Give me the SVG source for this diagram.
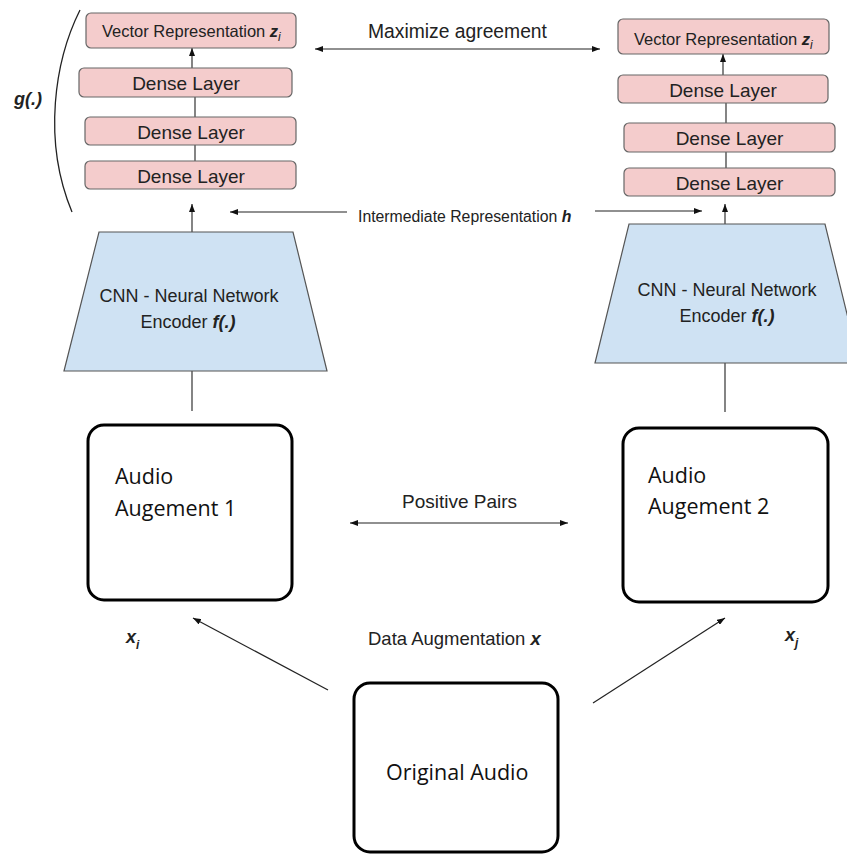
<svg xmlns="http://www.w3.org/2000/svg" width="847" height="855" viewBox="0 0 847 855">
<style>
.pink{fill:#f4cccc;stroke:#666;stroke-width:1.2}
.blue{fill:#cfe2f3;stroke:#555;stroke-width:1.2}
.box{fill:#fff;stroke:#000;stroke-width:3}
.t{font-family:"Liberation Sans",Arial,sans-serif;fill:#222}
.dense{font-size:19px;text-anchor:middle}
.vec{font-size:16.5px}
.cnn{font-size:18px;text-anchor:middle}
.aud{font-family:"Open Sans","Noto Sans",sans-serif;font-size:21.5px;fill:#111}
.bi{font-weight:bold;font-style:italic}
.ln{stroke:#333;stroke-width:1.2;fill:none}
.ar{stroke:#222;stroke-width:1.2;fill:none}
</style>
<defs>
<marker id="ah" markerUnits="userSpaceOnUse" markerWidth="8" markerHeight="6" refX="8" refY="3" orient="auto-start-reverse">
<path d="M0,0 L8,3 L0,6 z" fill="#111"/>
</marker>
</defs>
<rect width="847" height="855" fill="#fff"/>

<g id="connectors">
<line class="ln" x1="192" y1="68" x2="192" y2="48" marker-end="url(#ah)"/>
<line class="ln" x1="195" y1="117" x2="195" y2="97"/>
<line class="ln" x1="195" y1="161" x2="195" y2="145"/>
<line class="ln" x1="192" y1="232" x2="192" y2="204" marker-end="url(#ah)"/>
<line class="ln" x1="192" y1="371" x2="192" y2="411"/>
<line class="ln" x1="723" y1="75" x2="723" y2="54" marker-end="url(#ah)"/>
<line class="ln" x1="726" y1="123" x2="726" y2="103"/>
<line class="ln" x1="726" y1="168" x2="726" y2="152"/>
<line class="ln" x1="725" y1="224" x2="725" y2="204" marker-end="url(#ah)"/>
<line class="ln" x1="725" y1="363" x2="725" y2="412"/>
<line class="ar" x1="315" y1="49" x2="600" y2="49" marker-start="url(#ah)" marker-end="url(#ah)"/>
<line class="ar" x1="347" y1="212" x2="230" y2="212" marker-end="url(#ah)"/>
<line class="ar" x1="595" y1="211" x2="702" y2="211" marker-end="url(#ah)"/>
<line class="ar" x1="350" y1="523" x2="568" y2="523" marker-start="url(#ah)" marker-end="url(#ah)"/>
<line class="ar" x1="328" y1="690" x2="193" y2="618" marker-end="url(#ah)"/>
<line class="ar" x1="593" y1="703" x2="725" y2="618" marker-end="url(#ah)"/>
</g>

<g id="g-brace">
<path d="M80,10 C55,60 42,140 72,212" fill="none" stroke="#222" stroke-width="1.3"/>
<text class="t bi" x="14" y="105" font-size="18">g(.)</text>
</g>

<g id="vec-left">
<rect class="pink" x="86" y="13" width="210" height="35" rx="5"/>
<text class="t vec" x="102" y="37">Vector Representation <tspan class="bi">z</tspan><tspan font-style="italic" font-size="12" dy="4">i</tspan></text>
</g>
<g id="dense1-left">
<rect class="pink" x="79" y="68" width="213" height="29" rx="5"/>
<text class="t dense" x="186" y="90">Dense Layer</text>
</g>
<g id="dense2-left">
<rect class="pink" x="85" y="117" width="211" height="28" rx="5"/>
<text class="t dense" x="191" y="138.5">Dense Layer</text>
</g>
<g id="dense3-left">
<rect class="pink" x="85" y="161" width="211" height="28" rx="5"/>
<text class="t dense" x="191" y="183">Dense Layer</text>
</g>

<g id="vec-right">
<rect class="pink" x="618" y="19" width="211" height="35" rx="5"/>
<text class="t vec" x="634" y="45">Vector Representation <tspan class="bi">z</tspan><tspan font-style="italic" font-size="12" dy="4">i</tspan></text>
</g>
<g id="dense1-right">
<rect class="pink" x="618" y="75" width="210" height="28" rx="5"/>
<text class="t dense" x="723" y="97">Dense Layer</text>
</g>
<g id="dense2-right">
<rect class="pink" x="624" y="123" width="211" height="29" rx="5"/>
<text class="t dense" x="729.5" y="144.5">Dense Layer</text>
</g>
<g id="dense3-right">
<rect class="pink" x="624" y="168" width="211" height="28" rx="5"/>
<text class="t dense" x="729.5" y="189.5">Dense Layer</text>
</g>

<g id="encoder-left">
<polygon class="blue" points="99,232 293,232 327,371 64,371"/>
<text class="t cnn" x="189" y="302">CNN - Neural Network</text>
<text class="t cnn" x="188" y="328">Encoder <tspan class="bi">f(.)</tspan></text>
</g>
<g id="encoder-right">
<polygon class="blue" points="629,224 825,224 859,363 595,363"/>
<text class="t cnn" x="727" y="296" font-size="19.5">CNN - Neural Network</text>
<text class="t cnn" x="727" y="322" font-size="19.5">Encoder <tspan class="bi">f(.)</tspan></text>
</g>

<g id="labels">
<text class="t" x="368" y="38" font-size="19.3">Maximize agreement</text>
<text class="t" x="358" y="222" font-size="15.8">Intermediate Representation <tspan class="bi">h</tspan></text>
<text class="t" x="402" y="508" font-size="19">Positive Pairs</text>
<text class="t" x="368" y="645" font-size="18.5">Data Augmentation <tspan class="bi">x</tspan></text>
<text class="t bi" x="126" y="643" font-size="18" fill="#000">x<tspan font-size="12" dy="6">i</tspan></text>
<text class="t bi" x="785" y="641" font-size="18" fill="#000">x<tspan font-size="12" dy="6">j</tspan></text>
</g>

<g id="augment1">
<rect class="box" x="88" y="425" width="204" height="175" rx="16"/>
<text class="aud" x="115" y="484">Audio</text>
<text class="aud" x="115" y="516">Augement 1</text>
</g>
<g id="augment2">
<rect class="box" x="623" y="428" width="205" height="174" rx="16"/>
<text class="aud" x="648" y="483">Audio</text>
<text class="aud" x="648" y="514">Augement 2</text>
</g>
<g id="original">
<rect class="box" x="354" y="683" width="204" height="169" rx="16"/>
<text class="aud" x="386" y="780" font-size="22">Original Audio</text>
</g>
</svg>
